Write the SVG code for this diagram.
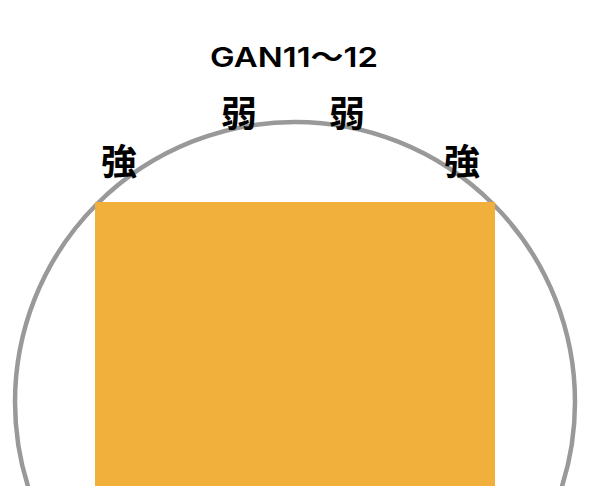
<svg xmlns="http://www.w3.org/2000/svg" width="590" height="486" viewBox="0 0 590 486">
<style>
.t{font-family:"Noto Sans CJK JP","Noto Sans",sans-serif;font-weight:bold;fill:#000;text-anchor:middle}
.k{font-size:36px}
</style>
<rect width="590" height="486" fill="#fff"/>
<g id="circle"><circle cx="295" cy="402" r="280" fill="none" stroke="#999" stroke-width="4.5"/></g>
<g id="rect"><rect x="95" y="202" width="400" height="290" fill="#F1B03C"/></g>
<g id="title"><text x="294" y="67" font-family="Inter,'Noto Sans CJK JP',sans-serif" font-size="27" font-weight="600" text-anchor="middle" textLength="168" lengthAdjust="spacingAndGlyphs">GAN11～12</text></g>
<g id="l1"><text class="t k" x="119" y="175">強</text></g>
<g id="l2"><text class="t k" x="239" y="127">弱</text></g>
<g id="l3"><text class="t k" x="347" y="127">弱</text></g>
<g id="l4"><text class="t k" x="462" y="175">強</text></g>
</svg>
